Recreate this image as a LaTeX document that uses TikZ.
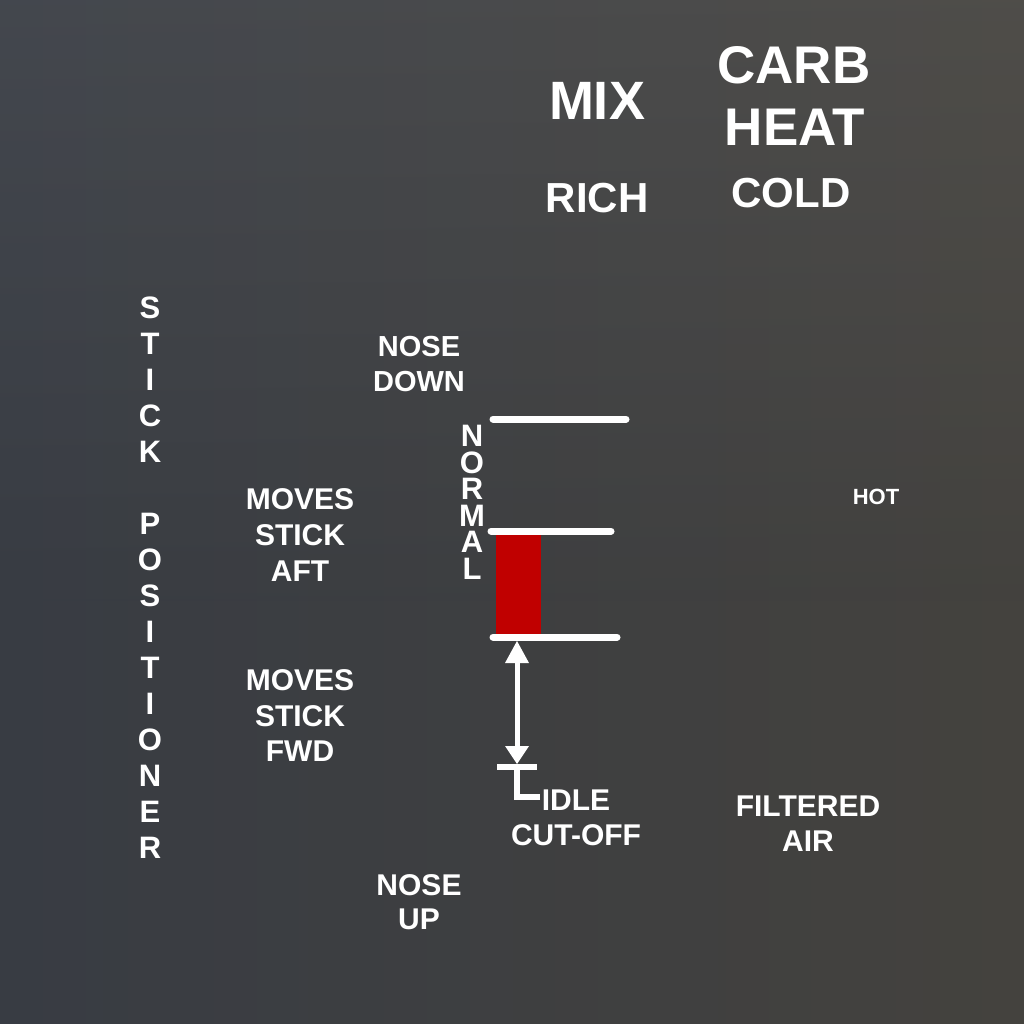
\documentclass[tikz,border=0pt]{standalone}
\usepackage{fontspec}
\setmainfont{Liberation Sans}
\usetikzlibrary{arrows.meta}
\definecolor{bgA}{RGB}{56,60,67}
\definecolor{bgB}{RGB}{68,66,62}
\definecolor{redbar}{RGB}{192,0,0}
\tikzset{
  lbl/.style={text=white,inner sep=0pt,anchor=base,font=\bfseries\fontsize{#1}{#1}\selectfont},
  lbl/.default=30,
  scaleline/.style={draw=white,line width=7pt,line cap=round},
  letter/.style={text=white,inner sep=0pt,anchor=center,font=\bfseries\fontsize{31}{31}\selectfont},
  tip/.style={fill=white,draw=none}
}
\begin{document}
\begin{tikzpicture}[x=1pt,y=-1pt]
\useasboundingbox (0,0) rectangle (1024,1024);
\shade[left color=bgA,right color=bgB] (0,0) rectangle (1024,1024);
\shade[top color=white,bottom color=bgA,opacity=0.06] (0,0) rectangle (1024,600);

% headings
\node[lbl=54] (mix) at (597,120) {MIX};
\node[lbl=53] (carb) at (794,84) {CARB};
\node[lbl=53] (heat) at (795,146) {HEAT};
\node[lbl=42] (rich) at (597,213) {RICH};
\node[lbl=42] (cold) at (791,208) {COLD};

% side labels
\node[lbl=29] (nd1) at (419,356) {NOSE};
\node[lbl=29] (nd2) at (419,391) {DOWN};
\node[lbl] (ma1) at (300,509) {MOVES};
\node[lbl] (ma2) at (300,545) {STICK};
\node[lbl] (ma3) at (300,581) {AFT};
\node[lbl] (mf1) at (300,690) {MOVES};
\node[lbl] (mf2) at (300,726) {STICK};
\node[lbl] (mf3) at (300,761) {FWD};
\node[lbl=22] (hot) at (876,504) {HOT};
\node[lbl] (ic1) at (576,810) {IDLE};
\node[lbl] (ic2) at (576,845) {CUT-OFF};
\node[lbl] (fa1) at (808,816) {FILTERED};
\node[lbl] (fa2) at (808,851) {AIR};
\node[lbl] (nu1) at (419,895) {NOSE};
\node[lbl] (nu2) at (419,929) {UP};

% vertical words
\foreach \c/\y [count=\i] in {S/308,T/344,I/380,C/416,K/452,P/524,O/560,S/596,I/632,T/668,I/704,O/740,N/776,E/812,R/848}
  \node[letter] (sp\i) at (150,\y) {\c};
\node[text=white,inner sep=0pt,anchor=north,align=center,
      font=\bfseries\fontsize{31}{26.6}\selectfont] (normal) at (472,425) {N\\O\\R\\M\\A\\L};

% scale lines
\coordinate (t1) at (493,419); \coordinate (t2) at (626,419);
\coordinate (m1) at (491,531); \coordinate (m2) at (611,531);
\coordinate (b1) at (493,637); \coordinate (b2) at (617,637);
\draw[scaleline] (t1) -- (t2);
\draw[scaleline] (m1) -- (m2);
\fill[redbar] (496,535) rectangle (541,634);
\draw[scaleline] (b1) -- (b2);

% arrow
\coordinate (atop) at (517,641);
\coordinate (abot) at (517,764);
\draw[white,line width=5pt] (517,660) -- (517,750);
\fill[tip] (atop) -- (529,663) -- (505,663) -- cycle;
\fill[tip] (abot) -- (529,746) -- (505,746) -- cycle;
\coordinate (c1) at (497,767); \coordinate (c2) at (537,767);
\draw[white,line width=6pt] (c1) -- (c2);
\coordinate (l1) at (517,767); \coordinate (l2) at (517,797); \coordinate (l3) at (540,797);
\draw[white,line width=6pt] (l1) -- (l2) -- (l3);
\end{tikzpicture}
\end{document}
